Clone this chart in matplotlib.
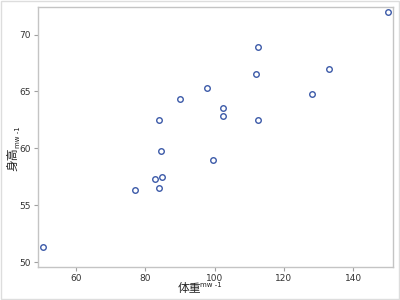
import matplotlib
matplotlib.use('Agg')
import matplotlib.pyplot as plt
from matplotlib.patches import Rectangle

plt.rcParams['font.family'] = ['Noto Sans CJK SC', 'DejaVu Sans']

# 体重 / 身高
weight = [50.4, 76.9, 82.8, 84.9, 84.0, 84.0, 84.5, 89.9, 97.9, 99.5,
          102.3, 102.3, 111.9, 112.5, 112.5, 128.0, 133.1, 150.0]
height = [51.3, 56.3, 57.3, 57.5, 56.5, 62.5, 59.8, 64.3, 65.3, 59.0,
          63.5, 62.8, 66.5, 68.9, 62.5, 64.8, 67.0, 72.0]

x_ticks = [60, 80, 100, 120, 140]
y_ticks = [50, 55, 60, 65, 70]

fig = plt.figure(figsize=(4, 3), dpi=100)
ax = fig.add_axes([0.095, 0.111, 0.8875, 0.865])

ax.plot(weight, height, linestyle='none', marker='o', markersize=4,
        markerfacecolor='white', markeredgecolor='#3c5aa8', markeredgewidth=1.0)

ax.set_xlim(49, 151.5)
ax.set_ylim(49.6, 72.4)
ax.set_xticks(x_ticks)
ax.set_yticks(y_ticks)
ax.set_xticklabels([str(v) for v in x_ticks], family='DejaVu Sans')
ax.set_yticklabels([str(v) for v in y_ticks], family='DejaVu Sans')

for s in ax.spines.values():
    s.set_color('#c4c4c4')
    s.set_linewidth(1.0)
ax.tick_params(colors='#a0a0a0', labelcolor='#333333', labelsize=6.5, length=3, width=0.8, pad=2)

# axis labels with small "mw -1" suffix, placed by hand
fig.text(189 / 400, 1 - 288.5 / 300, '体重', fontsize=8.5, color='#222222', ha='center', va='center')
fig.text(200 / 400, 1 - 285 / 300, 'mw -1', fontsize=5, color='#222222', ha='left', va='center',
         family='DejaVu Sans')
fig.text(13 / 400, 1 - 159 / 300, '身高', fontsize=8.5, color='#222222', rotation=90,
         ha='center', va='center')
fig.text(17.5 / 400, 1 - 137 / 300, 'mw -1', fontsize=5, color='#222222', rotation=90,
         ha='center', va='center', family='DejaVu Sans')

# light frame round the whole picture
fig.patches.append(Rectangle((0.002, 0.004), 0.995, 0.992, transform=fig.transFigure,
                             fill=False, edgecolor='#dddddd', linewidth=1.0))

fig.savefig('out.png', dpi=100)
